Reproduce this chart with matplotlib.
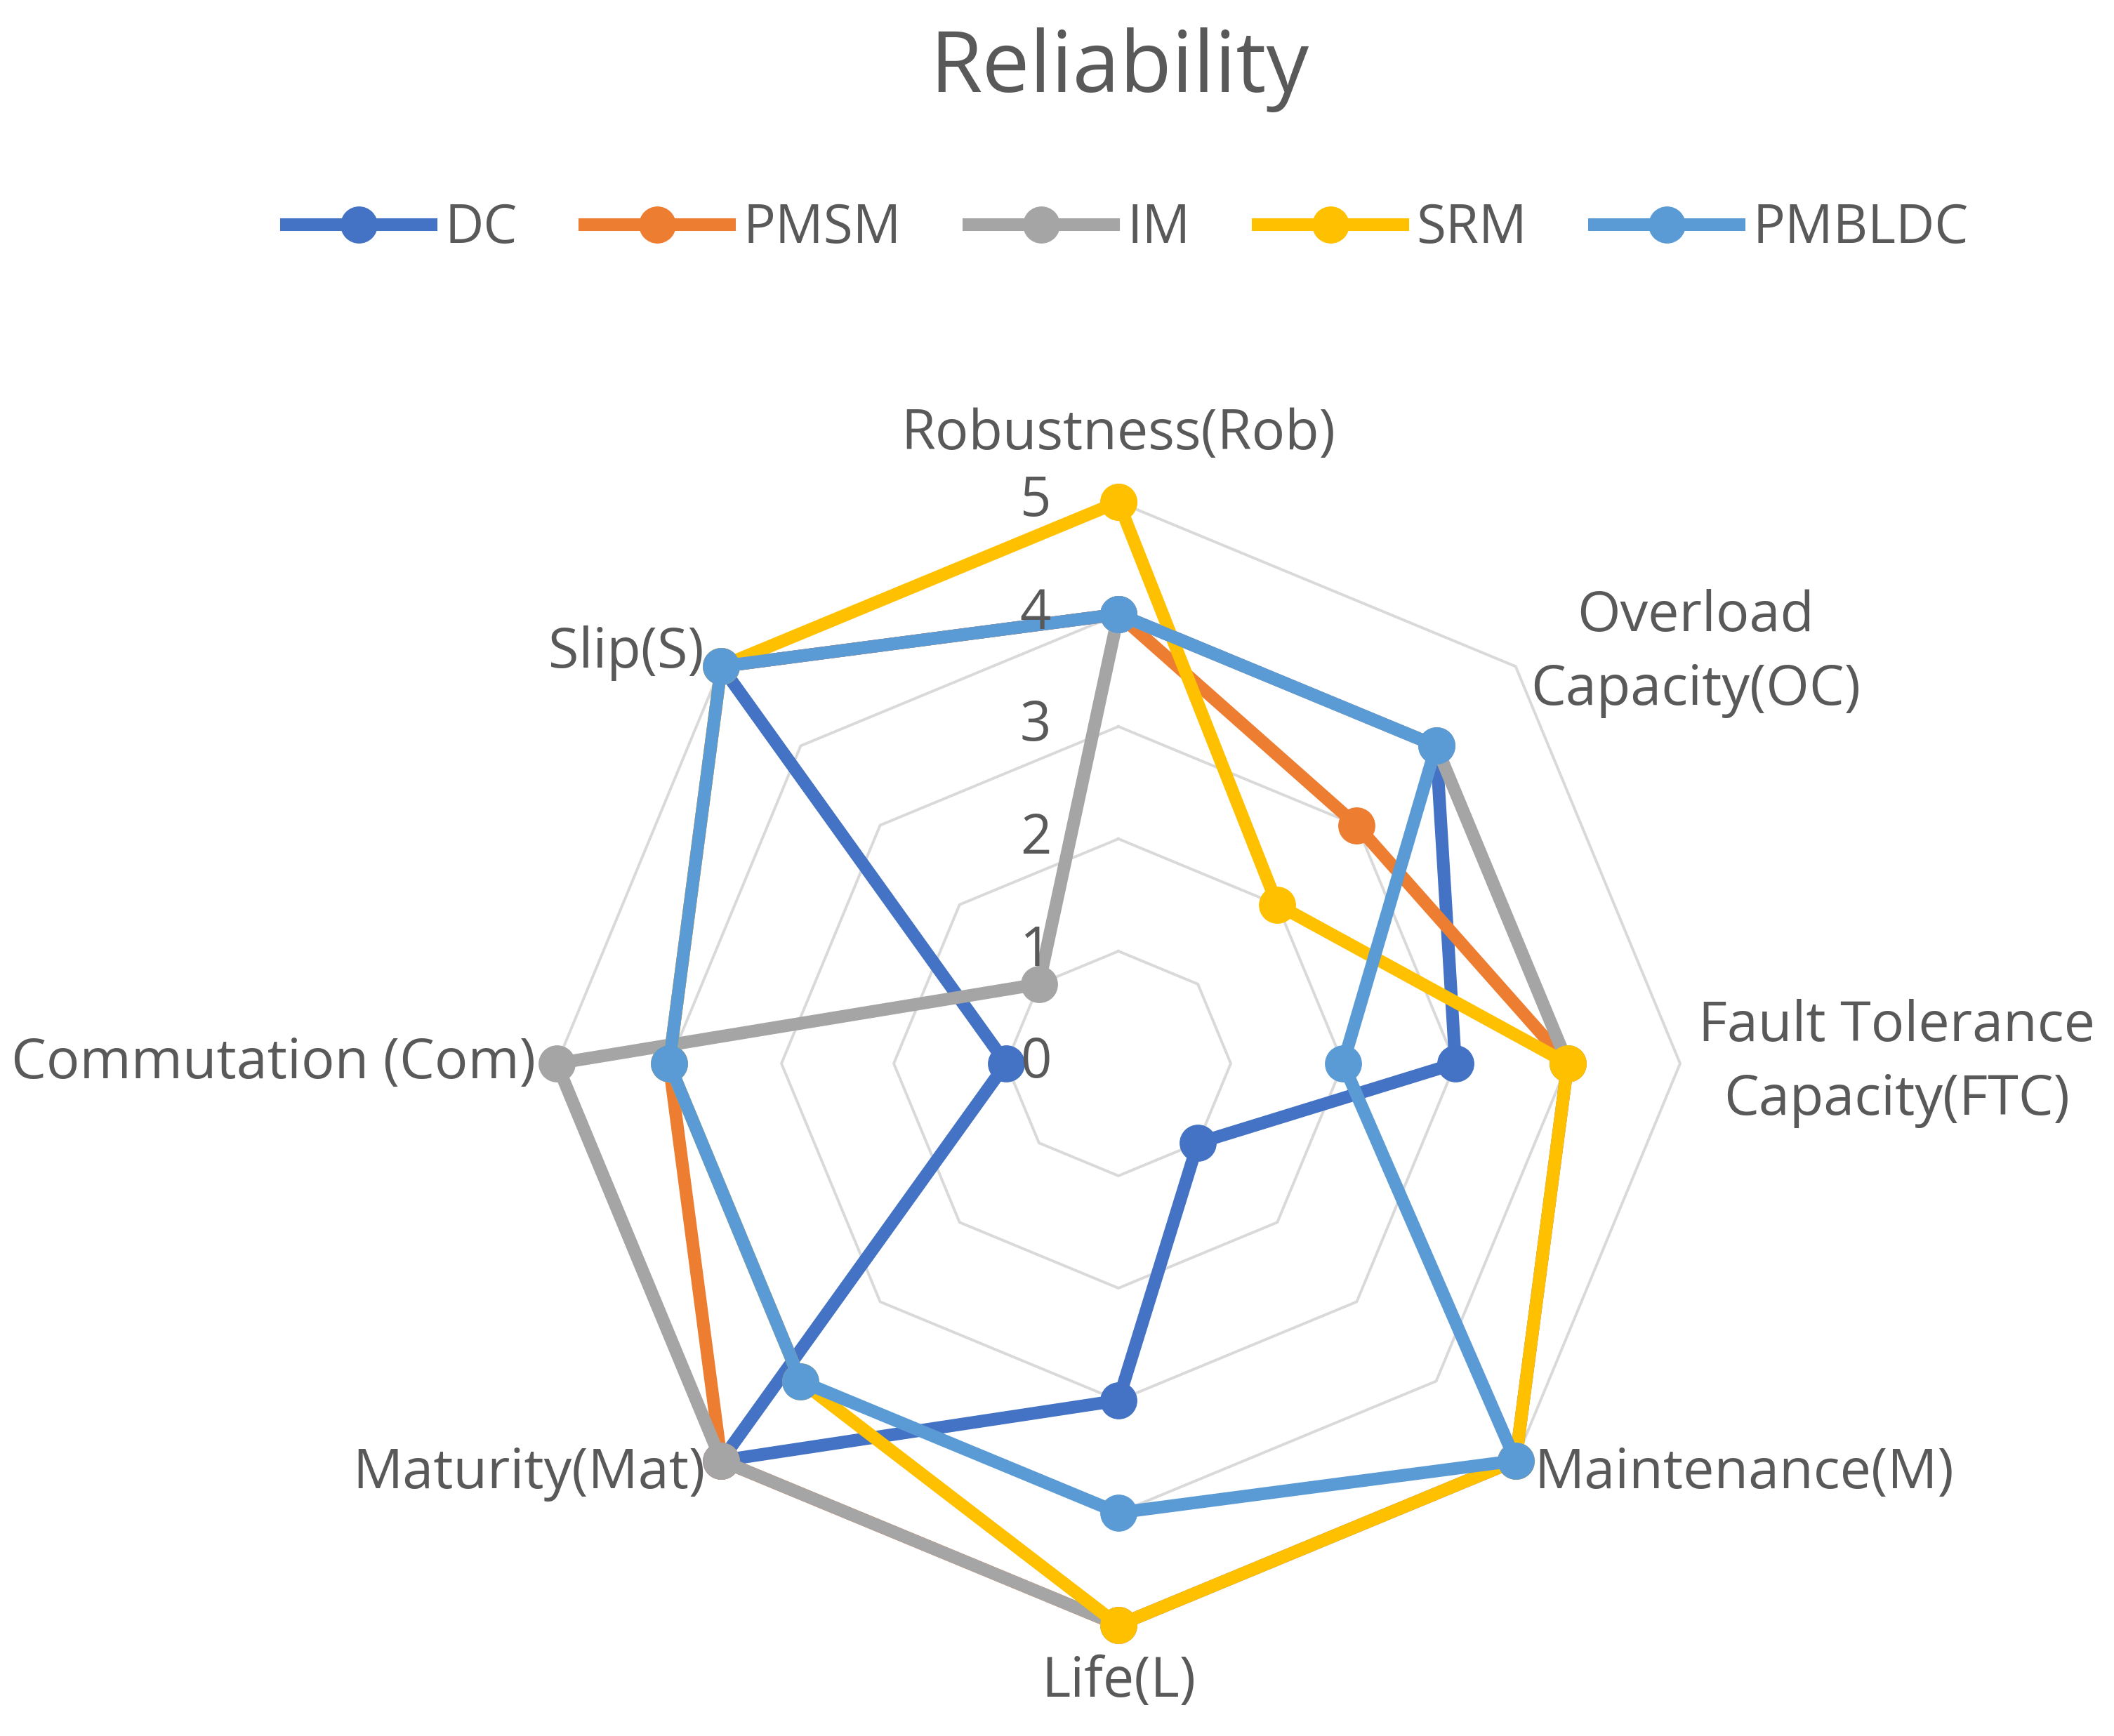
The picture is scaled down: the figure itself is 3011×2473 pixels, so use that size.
import numpy as np
import matplotlib
matplotlib.use("Agg")
import matplotlib.pyplot as plt

plt.rcParams['font.family'] = ['Open Sans', 'DejaVu Sans']

categories = ["Robustness(Rob)", "Overload\nCapacity(OC)", "Fault Tolerance\nCapacity(FTC)",
              "Maintenance(M)", "Life(L)", "Maturity(Mat)", "Commutation (Com)", "Slip(S)"]
series_names = ["DC", "PMSM", "IM", "SRM", "PMBLDC"]
DC = [4, 4, 3, 1, 3, 5, 1, 5]
PMSM = [4, 3, 4, 5, 5, 5, 4, 5]
IM = [4, 4, 4, 5, 5, 5, 5, 1]
SRM = [5, 2, 4, 5, 5, 4, 4, 5]
PMBLDC = [4, 4, 2, 5, 4, 4, 4, 5]
levels = [0, 1, 2, 3, 4, 5]

colors = ["#4472C4", "#ED7D31", "#A5A5A5", "#FFC000", "#5B9BD5"]
text_color = "#595959"
grid_color = "#D9D9D9"

W, H = 3011, 2473
fig = plt.figure(figsize=(W / 100, H / 100), dpi=100)
cx, cy, R = 1593, 1515, 800
ax = fig.add_axes([(cx - R) / W, (H - cy - R) / H, 2 * R / W, 2 * R / H], projection='polar')
ax.set_theta_offset(np.pi / 2)
ax.set_theta_direction(-1)
ax.set_ylim(0, 5)
ax.set_xticks([])
ax.set_yticks([])
ax.grid(False)
ax.spines['polar'].set_visible(False)
ax.patch.set_visible(False)

n = len(categories)
theta = np.linspace(0, 2 * np.pi, n, endpoint=False)
theta_c = np.append(theta, theta[0])

for lv in levels[1:]:
    ax.plot(theta_c, [lv] * (n + 1), color=grid_color, lw=2.8, zorder=1, clip_on=False)

handles = []
for name, vals, col in zip(series_names, [DC, PMSM, IM, SRM, PMBLDC], colors):
    v = np.append(vals, vals[0])
    h, = ax.plot(theta_c, v, color=col, lw=13, marker='o', markersize=37,
                 solid_joinstyle='miter', zorder=3, clip_on=False, label=name)
    handles.append(h)

for lv in levels:
    ax.annotate(str(lv), xy=(0, lv), xytext=(-69, 0), textcoords='offset points',
                ha='right', va='center', fontsize=56, color=text_color, zorder=5)

label_pos = [
    (0, 5.60, 'center'),
    (np.deg2rad(54.6), 6.30, 'center'),
    (np.deg2rad(90), 6.93, 'center'),
    (np.deg2rad(134.6), 5.20, 'left'),
    (np.deg2rad(180), 5.51, 'center'),
    (np.deg2rad(225.2), 5.18, 'right'),
    (np.deg2rad(270), 5.19, 'right'),
    (np.deg2rad(314.7), 5.19, 'right'),
]
for lab, (t, r, ha) in zip(categories, label_pos):
    ax.text(t, r, lab, ha=ha, va='center', multialignment='center', fontsize=57,
            color=text_color, linespacing=1.42)

fig.text(1594 / W, 1 - 131 / H, "Reliability", ha='center', va='baseline',
         fontsize=87, color=text_color)

leg = fig.legend(handles=handles, labels=series_names, loc='center',
                 bbox_to_anchor=(1606 / W, 1 - 326 / H), ncol=5, frameon=False,
                 fontsize=55, handlelength=2.7, handletextpad=0.25, columnspacing=1.26)
for t in leg.get_texts():
    t.set_color(text_color)

fig.savefig("out.png", dpi=100, facecolor='white')
